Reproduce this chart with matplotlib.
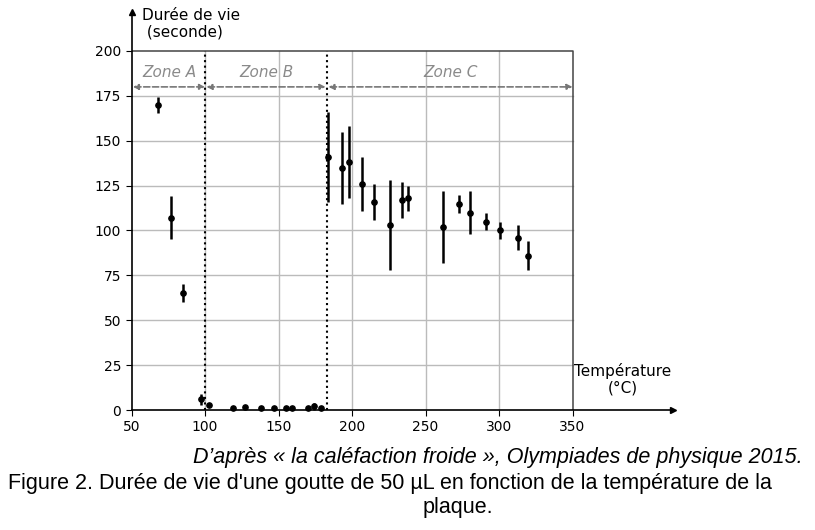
import matplotlib
matplotlib.use("Agg")
import matplotlib.pyplot as plt

# data
temp_a = [68, 77, 85, 97, 103]
life_a = [170, 107, 65, 6, 3]
err_a = [4.5, 12, 5, 3, 1]

temp_b = [119, 127, 138, 147, 155, 159, 170, 174, 179]
life_b = [1, 1.5, 1, 1, 1, 1, 1, 2, 1]
err_b = [0, 0, 0, 0, 0, 0, 0, 2, 0]

temp_c = [184, 193, 198, 207, 215, 226, 234, 238, 262, 273, 280, 291, 301, 313, 320]
life_c = [141, 135, 138, 126, 116, 103, 117, 118, 102, 115, 110, 105, 100, 96, 86]
err_c = [25, 20, 20, 15, 10, 25, 10, 7, 20, 5, 12, 5, 5, 7, 8]

x_ticks = [50, 100, 150, 200, 250, 300, 350]
y_ticks = [0, 25, 50, 75, 100, 125, 150, 175, 200]
zone_limits = [100, 183]
zone_names = ["Zone A", "Zone B", "Zone C"]
zone_spans = [(51, 100), (101, 182), (184, 350)]

cap_font = "Liberation Sans"

fig = plt.figure(figsize=(8.15, 5.30), dpi=100)
ax = fig.add_axes([131.5 / 815, 1 - 410 / 530, 541 / 815, 398.5 / 530])
ax.set_xlim(50, 418)
ax.set_ylim(0, 222)

# grid + frame limited to the 50-350 / 0-200 box
for xv in x_ticks[1:-1]:
    ax.plot([xv, xv], [0, 200], color="#bbbbbb", lw=1, zorder=1)
for yv in y_ticks[1:-1]:
    ax.plot([50, 350], [yv, yv], color="#bbbbbb", lw=1, zorder=1)
ax.plot([50, 350, 350], [200, 200, 0], color="#444444", lw=1.1, zorder=1)

for s in ["top", "right"]:
    ax.spines[s].set_visible(False)
ax.spines["left"].set_linewidth(1.2)
ax.spines["bottom"].set_linewidth(1.2)
ax.plot(1, 0, ">k", ms=5, transform=ax.transAxes, clip_on=False)
ax.plot(0, 1, "^k", ms=5, transform=ax.transAxes, clip_on=False)

ax.set_xticks(x_ticks)
ax.set_yticks(y_ticks)
ax.tick_params(labelsize=10, length=4)

# zones
for xv in zone_limits:
    ax.plot([xv, xv], [0, 200], color="black", ls=":", lw=1.5, zorder=2)
for name, (x0, x1) in zip(zone_names, zone_spans):
    ax.annotate("", xy=(x1, 180), xytext=(x0, 180),
                arrowprops=dict(arrowstyle="<|-|>", ls="--", color="#777777",
                                lw=1.2, mutation_scale=8, shrinkA=0, shrinkB=0))
    ax.text((x0 + x1) / 2, 188, name, ha="center", va="center",
            style="italic", color="#8a8a8a", fontsize=11)

for xs, ys, es in [(temp_a, life_a, err_a), (temp_b, life_b, err_b), (temp_c, life_c, err_c)]:
    ax.errorbar(xs, ys, yerr=es, fmt="o", color="black", ms=3.8, elinewidth=1.8,
                capsize=0, zorder=3, clip_on=False)

ax.text(57, 224, "Durée de vie\n (seconde)", fontsize=11, va="top", ha="left",
        linespacing=1.15)
ax.text(384, 8, "Température\n(°C)", fontsize=11, va="bottom", ha="center",
        linespacing=1.15)

fig.text(803 / 815, 1 - 458 / 530, "D\u2019après « la caléfaction froide », Olympiades de physique 2015.",
         ha="right", va="center", style="italic", fontsize=15.5, family=cap_font)
fig.text(390 / 815, 1 - 483 / 530, "Figure 2. Durée de vie d'une goutte de 50 µL en fonction de la température de la",
         ha="center", va="center", fontsize=15.5, family=cap_font)
fig.text(458 / 815, 1 - 507 / 530, "plaque.",
         ha="center", va="center", fontsize=15.5, family=cap_font)

fig.savefig("out.png", dpi=100)
